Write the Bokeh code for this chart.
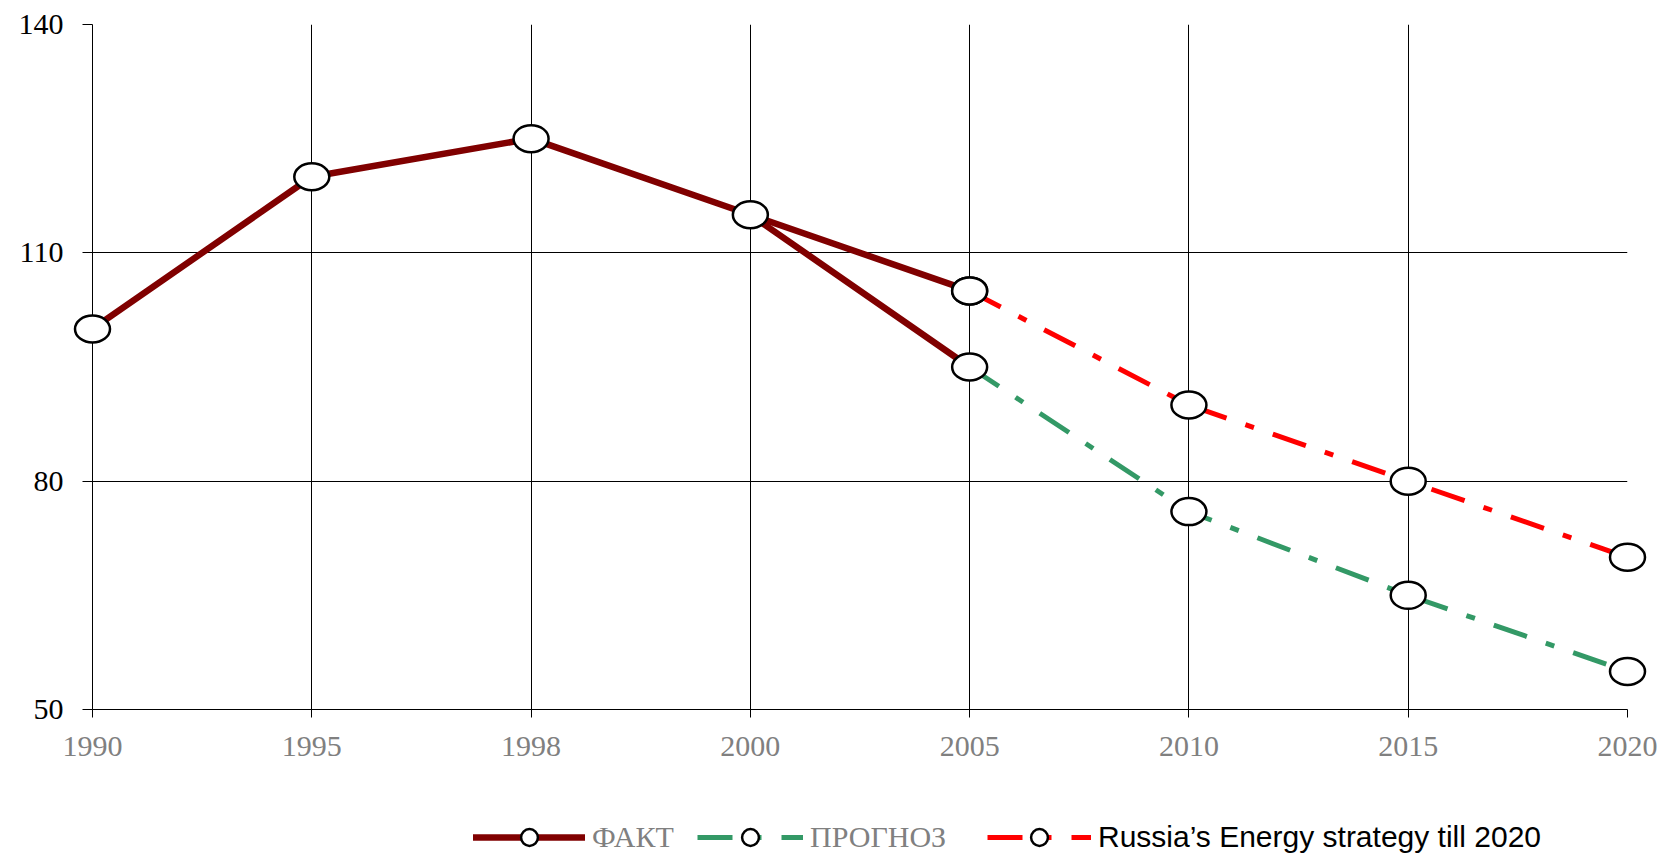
from bokeh.plotting import figure
from bokeh.layouts import column
from bokeh.models import Range1d, FixedTicker, Legend, LegendItem, ColumnDataSource
from bokeh.embed import file_html
from bokeh.resources import INLINE

# ---- data ----
years = ["1990", "1995", "1998", "2000", "2005", "2010", "2015", "2020"]
fact = [100, 120, 125, 115]            # 1990-2000
forecast = [95, 76, 65, 55]            # 2005-2020 (ПРОГНОЗ)
strategy = [105, 90, 80, 70]           # 2005-2020 (Russia's Energy strategy till 2020)
y_ticks = [50, 80, 110, 140]
labels = ["ФАКТ", "ПРОГНОЗ", "Russia’s Energy strategy till 2020"]

idx = list(range(len(years)))
fact_x = idx[:4]
proj_x = idx[4:]

DARK = "#800000"
GREEN = "#339966"
RED = "#FF0000"
DASH = "35 20 9 20"

W = 1673
H_MAIN = 770
H_LEG = 855 - H_MAIN

p = figure(width=W, height=H_MAIN, output_backend="svg", toolbar_location=None,
           x_range=Range1d(0, len(years) - 1), y_range=Range1d(y_ticks[0], y_ticks[-1]),
           min_border_left=92, min_border_right=46, min_border_top=24, min_border_bottom=61)
p.outline_line_color = None
p.background_fill_color = "white"

# axes
for ax in (p.xaxis[0], p.yaxis[0]):
    ax.axis_line_color = "black"
    ax.axis_line_width = 1
    ax.major_tick_line_color = "black"
    ax.minor_tick_line_color = None
    ax.major_tick_in = 0
    ax.major_label_text_font = "Liberation Serif"
    ax.major_label_text_font_size = "30px"

p.xaxis.ticker = FixedTicker(ticks=idx)
p.xaxis.major_label_overrides = {i: y for i, y in zip(idx, years)}
p.xaxis.major_tick_out = 8
p.xaxis.major_label_standoff = 19
p.xaxis.major_label_text_color = "#808080"

p.yaxis.ticker = FixedTicker(ticks=y_ticks)
p.yaxis.major_tick_out = 10
p.yaxis.major_label_standoff = 19
p.yaxis.major_label_text_color = "black"

p.xgrid.ticker = FixedTicker(ticks=idx)
p.ygrid.ticker = FixedTicker(ticks=y_ticks)
for g in (p.xgrid[0], p.ygrid[0]):
    g.grid_line_color = "black"
    g.grid_line_width = 1

series = [
    (fact_x + [proj_x[0]], fact + [strategy[0]]),
    (proj_x, forecast),
    (proj_x, strategy),
]
styles = [
    dict(line_color=DARK, line_width=6.5, line_cap="round", line_join="round"),
    dict(line_color=GREEN, line_width=5, line_dash=DASH),
    dict(line_color=RED, line_width=5, line_dash=DASH),
]

# lines
p.line(series[0][0], series[0][1], **styles[0])
p.line([fact_x[-1], proj_x[0]], [fact[-1], forecast[0]], **styles[0])
p.line(series[1][0], series[1][1], **styles[1])
p.line(series[2][0], series[2][1], **styles[2])

for xs, ys in series:
    src = ColumnDataSource(dict(x=xs, y=ys))
    p.ellipse(x="x", y="y", width=35, height=27, width_units="screen", height_units="screen",
              source=src, fill_color="white", line_color="black", line_width=2.5, level="overlay")

# ---- legend strip (separate figure below the chart; its ranges keep the data out of view) ----
q = figure(width=W, height=H_LEG, output_backend="svg", toolbar_location=None,
           x_range=Range1d(0, 1), y_range=Range1d(-2, -1),
           x_axis_location=None, y_axis_location=None,
           min_border_left=92, min_border_right=46, min_border_top=0, min_border_bottom=0)
q.outline_line_color = None
q.grid.visible = False

leg_x = [381, 605, 895]
glyph_w = [112, 106, 104]
fonts = ["Liberation Serif", "Liberation Serif", "Liberation Sans"]
colors = ["#808080", "#808080", "black"]

for lab, (xs, ys), st, lx, gw, fnt, col in zip(labels, series, styles, leg_x, glyph_w, fonts, colors):
    src = ColumnDataSource(dict(x=xs, y=ys))
    lr = q.line(x="x", y="y", source=src, **st)
    mr = q.scatter(x="x", y="y", source=src, marker="circle", size=17,
                   fill_color="white", line_color="black", line_width=2.5)
    lg = Legend(items=[LegendItem(label=lab, renderers=[lr, mr])],
                location=(lx, -3), orientation="horizontal",
                glyph_width=gw, glyph_height=42, label_height=42,
                label_standoff=7, padding=0, margin=0, spacing=0,
                border_line_color=None, background_fill_alpha=0,
                label_text_font=fnt, label_text_font_size="30px",
                label_text_color=col)
    q.add_layout(lg, "center")

layout = column(p, q, spacing=0)
open("out.html", "w").write(file_html(layout, INLINE))
